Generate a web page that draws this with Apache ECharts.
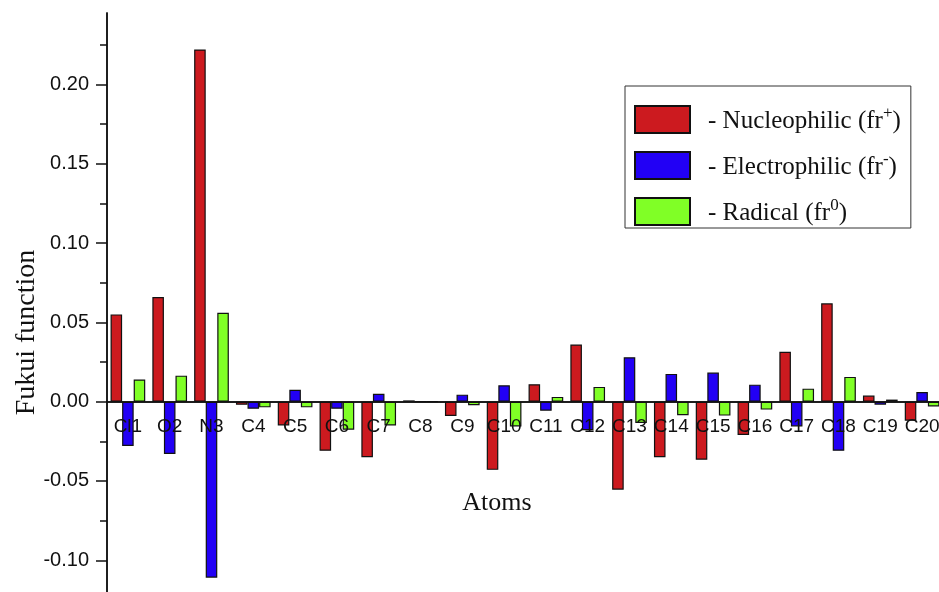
<!DOCTYPE html>
<html><head><meta charset="utf-8">
<script src="https://cdn.jsdelivr.net/npm/echarts@6/dist/echarts.min.js"></script>
<style>html,body{margin:0;padding:0;background:#fff}#c{width:939px;height:592px}</style>
</head><body><div id="c"></div>
<script>
const atoms = ['Cl1','O2','N3','C4','C5','C6','C7','C8','C9','C10','C11','C12','C13','C14','C15','C16','C17','C18','C19','C20'];
const nucleophilic = [0.055, 0.066, 0.222, -0.002, -0.015, -0.031, -0.035, 0.0008, -0.009, -0.043, 0.011, 0.036, -0.0555, -0.035, -0.0366, -0.021, 0.0315, 0.062, 0.0038, -0.012];
const electrophilic = [-0.028, -0.033, -0.111, -0.0045, 0.0075, -0.0045, 0.005, 0, 0.0044, 0.0103, -0.0057, -0.018, 0.028, 0.0175, 0.0183, 0.0107, -0.0156, -0.031, -0.0019, 0.0061];
const radical = [0.014, 0.0164, 0.056, -0.0036, -0.0036, -0.0177, -0.015, 0, -0.0023, -0.0156, 0.003, 0.0093, -0.0135, -0.0086, -0.0088, -0.005, 0.0082, 0.0156, 0.0013, -0.003];
const yTickLabels = [-0.10, -0.05, 0.00, 0.05, 0.10, 0.15, 0.20];
const yMinorTicks = [-0.075, -0.025, 0.025, 0.075, 0.125, 0.175, 0.225];
const seriesNames = ['Nucleophilic (fr+)', 'Electrophilic (fr-)', 'Radical (fr0)'];
const legendMain = ['- Nucleophilic (fr', '- Electrophilic (fr', '- Radical (fr'];
const legendSup = ['+', '-', '0'];

const colors = ['#cc1a1f', '#2200f5', '#80ff26'];
const seriesData = [nucleophilic, electrophilic, radical];
const serifFont = '"Liberation Serif", "Times New Roman", serif';
const sansFont = '"Liberation Sans", Arial, sans-serif';

const yMin = -0.12, yMax = 0.245;
const gridTop = 13, gridH = 579;
// shift x axis up from the grid bottom to the zero line
const zeroOffset = -gridH * (0 - yMin) / (yMax - yMin);

const chart = echarts.init(document.getElementById('c'));
chart.setOption({
  animation: false,
  backgroundColor: '#fff',
  grid: { left: 107, width: 836, top: gridTop, height: gridH, containLabel: false, outerBoundsMode: 'none' },
  legend: {
    orient: 'vertical', left: 625, top: 86,
    itemWidth: 55, itemHeight: 27, itemGap: 17,
    padding: [19, 10, 2, 9],
    borderColor: '#333', borderWidth: 1,
    icon: 'rect',
    data: seriesNames,
    formatter: function (n) {
      const i = seriesNames.indexOf(n);
      return '{t|' + legendMain[i] + '}{s|' + legendSup[i] + '}{t|)}';
    },
    textStyle: {
      rich: {
        t: { fontFamily: serifFont, fontSize: 25, color: '#111', lineHeight: 29, verticalAlign: 'bottom' },
        s: { fontFamily: serifFont, fontSize: 17, color: '#111', lineHeight: 3, verticalAlign: 'top' }
      },
      padding: [0, 0, 0, 13]
    }
  },
  xAxis: [{
    type: 'category', data: atoms, position: 'bottom', offset: zeroOffset, z: 10,
    name: 'Atoms', nameLocation: 'middle', nameGap: 89, nameMoveOverlap: false,
    nameTextStyle: { fontFamily: serifFont, fontSize: 26, color: '#111', padding: [0, 56, 0, 0] },
    axisLine: { onZero: false, lineStyle: { color: '#111', width: 1.5 } },
    axisTick: { alignWithLabel: true, length: 10, lineStyle: { color: '#111', width: 1.5 } },
    axisLabel: { interval: 0, margin: 16, fontFamily: sansFont, fontSize: 19, color: '#111' },
    splitLine: { show: false }
  }, {
    type: 'category', data: atoms, position: 'bottom', offset: zeroOffset, z: 10,
    axisLine: { onZero: false, lineStyle: { color: '#111', width: 1.5 } },
    axisTick: { alignWithLabel: false, length: 5, lineStyle: { color: '#111', width: 1.5 } },
    axisLabel: { show: false },
    splitLine: { show: false }
  }],
  yAxis: [{
    type: 'value', position: 'left', min: yMin, max: yMax,
    name: 'Fukui function', nameLocation: 'middle', nameGap: 66, nameMoveOverlap: false,
    nameTextStyle: { fontFamily: serifFont, fontSize: 28, color: '#111', padding: [0, 60, 0, 0] },
    axisLine: { show: true, lineStyle: { color: '#111', width: 1.5 } },
    axisTick: { show: true, customValues: yTickLabels, length: 11, lineStyle: { color: '#111', width: 1.5 } },
    axisLabel: { customValues: yTickLabels, margin: 18, fontFamily: sansFont, fontSize: 20, color: '#111',
      formatter: v => v.toFixed(2) },
    splitLine: { show: false }
  }, {
    type: 'value', position: 'left', min: yMin, max: yMax,
    axisLine: { show: true, lineStyle: { color: '#111', width: 1.5 } },
    axisTick: { show: true, customValues: yMinorTicks, length: 7, lineStyle: { color: '#111', width: 1.5 } },
    axisLabel: { show: false },
    splitLine: { show: false }
  }],
  series: seriesNames.map((n, i) => ({
    name: n, type: 'bar', data: seriesData[i],
    xAxisIndex: 0, yAxisIndex: 0,
    barGap: '0%', barCategoryGap: '17%',
    itemStyle: { color: colors[i], borderColor: '#111', borderWidth: 1.2 }
  }))
});
</script>
</body></html>
